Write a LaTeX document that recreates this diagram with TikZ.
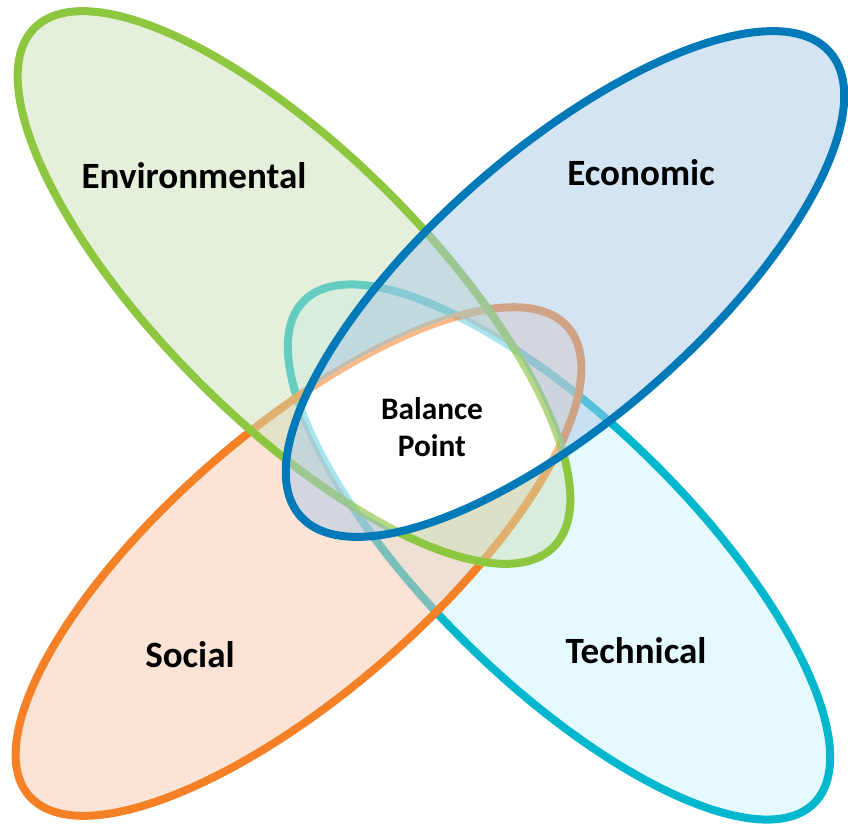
\documentclass[tikz,border=0pt]{standalone}
\usepackage{fontspec}
\setmainfont{Carlito}
\definecolor{gline}{RGB}{141,198,63}
\definecolor{gfill}{RGB}{203,225,185}
\definecolor{bline}{RGB}{0,121,184}
\definecolor{bfill}{RGB}{171,201,231}
\definecolor{oline}{RGB}{245,128,37}
\definecolor{ofill}{RGB}{247,199,171}
\definecolor{tline}{RGB}{0,183,205}
\definecolor{tfill}{RGB}{203,245,253}
\newcommand\ellGreen[1]{\path[#1,rotate around={-45:(294,287.5)}] (294,287.5) ellipse [x radius=367, y radius=134];}
\newcommand\ellBlue[1]{\path[#1,rotate around={41.2:(565,284)}] (565,284) ellipse [x radius=352, y radius=134];}
\newcommand\ellOrange[1]{\path[#1,rotate around={41:(298.5,561.5)}] (298.5,561.5) ellipse [x radius=357, y radius=131];}
\newcommand\ellTeal[1]{\path[#1,rotate around={-44.5:(559,552)}] (559,552) ellipse [x radius=358, y radius=130];}
\tikzset{
  lbl/.style={font=\bfseries\fontsize{27.8}{32}\selectfont, text=black, inner sep=0pt},
  ctr/.style={font=\bfseries\fontsize{23.5}{28}\selectfont, text=black, align=center, inner sep=0pt},
  edge/.style={line width=6pt},
  wash/.style={fill opacity=0.5}
}
\begin{document}
\begin{tikzpicture}[x=0.75pt,y=-0.75pt]
\useasboundingbox (0,0) rectangle (848,825);
% shapes, bottom to top
\ellTeal{fill=tfill, wash}
\ellTeal{draw=tline, edge}
\ellOrange{fill=ofill, wash}
\ellOrange{draw=oline, edge}
\ellGreen{fill=gfill, wash}
\ellGreen{draw=gline, edge}
\ellBlue{fill=bfill, wash}
% white balance region with faint inner edges
\begin{scope}
\ellGreen{clip}
\ellTeal{clip}
\ellOrange{clip}
\ellBlue{clip}
\fill[white] (0,0) rectangle (848,825);
\ellTeal{draw=tline, edge, draw opacity=0.35}
\ellOrange{draw=oline, edge, draw opacity=0.55}
\ellGreen{draw=gline, edge, draw opacity=0.65}
\end{scope}
\ellBlue{draw=bline, edge}
% labels
\node[lbl] (env) at (194,176) {Environmental};
\node[lbl] (eco) at (641,173) {Economic};
\node[lbl] (soc) at (190,655) {Social};
\node[lbl] (tec) at (636,651) {Technical};
\node[ctr] (bal) at (432,427) {Balance\\Point};
\end{tikzpicture}
\end{document}
